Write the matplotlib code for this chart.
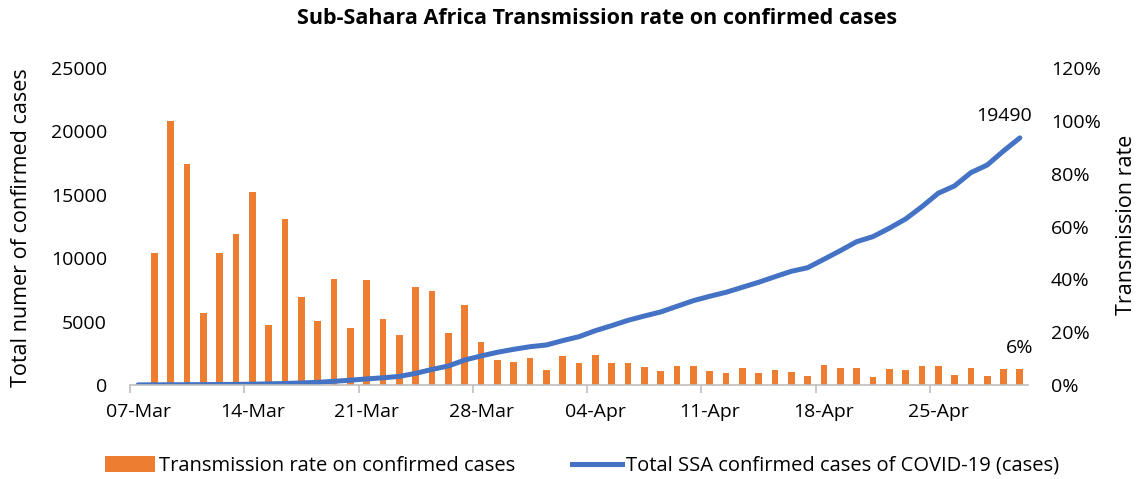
import matplotlib
matplotlib.use("Agg")
import matplotlib.pyplot as plt
import numpy as np
import pandas as pd
from matplotlib.patches import Patch
from matplotlib.lines import Line2D

plt.rcParams['font.family'] = ['Open Sans', 'DejaVu Sans']

# daily data, 07-Mar to 30-Apr
dates = pd.date_range("2020-03-07", "2020-04-30", freq="D")
rate_pct = [0, 50, 100, 83.5, 27.1, 50, 57.2, 72.9, 22.7, 63, 33.2, 24.2, 40.1,
            21.5, 39.6, 25, 18.9, 37, 35.6, 19.6, 30.3, 16.2, 9.3, 8.7, 10.1,
            5.8, 11.1, 8.3, 11.4, 8.5, 8.5, 6.8, 5.3, 7.1, 7.2, 5.2, 4.5, 6.3,
            4.4, 5.7, 4.8, 3.4, 7.6, 6.6, 6.4, 3.0, 6.1, 5.5, 7.3, 7.2, 3.8,
            6.4, 3.4, 5.9, 5.9]
total_cases = [10, 15, 20, 25, 30, 40, 50, 65, 90, 120, 160, 210, 290, 380, 480,
               570, 680, 920, 1230, 1500, 1970, 2290, 2580, 2815, 3020, 3155,
               3500, 3810, 4285, 4680, 5100, 5440, 5760, 6205, 6650, 6995, 7310,
               7705, 8100, 8540, 8965, 9250, 9915, 10590, 11300, 11700, 12360,
               13090, 14060, 15120, 15700, 16745, 17350, 18455, 19490]
label_days = list(range(0, 55, 7))
tick_labels = [dates[i].strftime("%d-%b") for i in label_days]

orange = "#ED7D31"
blue = "#4472C4"
grey = "#BFBFBF"

fig = plt.figure(figsize=(11.38, 4.79), dpi=100)
ax = fig.add_axes([130/1138, 1 - 385/479, 898/1138, 317/479])
ax_r = ax.twinx()
ax.set_zorder(ax_r.get_zorder() + 1)
ax.patch.set_visible(False)

x = np.arange(len(dates))
ax_r.bar(x, rate_pct, width=0.41, color=orange)
ax.plot(x, total_cases, color=blue, lw=3.6, solid_capstyle="round", solid_joinstyle="round")

ax.set_xlim(-0.5, len(dates) - 0.5)
ax.set_ylim(0, 25000)
ax_r.set_ylim(0, 120)

ax.set_yticks(np.arange(0, 25001, 5000))
ax.set_yticklabels([str(v) for v in range(0, 25001, 5000)])
ax_r.set_yticks(np.arange(0, 121, 20))
ax_r.set_yticklabels([f"{v}%" for v in range(0, 121, 20)])

# ticks at the boundaries, labels at day centres
ax.set_xticks([i - 0.5 for i in label_days])
ax.set_xticklabels([])
ax.set_xticks(label_days, minor=True)
ax.set_xticklabels(tick_labels, minor=True)
ax.tick_params(axis="x", which="major", length=6, width=1.2, color=grey)
ax.tick_params(axis="x", which="minor", length=0, pad=13, labelsize=14)
ax.tick_params(axis="y", length=0, pad=16.5, labelsize=14)
ax_r.tick_params(axis="y", length=0, pad=16.5, labelsize=14)
ax_r.tick_params(axis="x", length=0)

for a in (ax, ax_r):
    for s in ("top", "left", "right"):
        a.spines[s].set_visible(False)
ax.spines["bottom"].set_color(grey)
ax.spines["bottom"].set_linewidth(1.2)
ax_r.spines["bottom"].set_visible(False)

fig.text(22/1138, 1 - 228/479, "Total numer of confirmed cases", rotation=90,
         ha="center", va="center", fontsize=15.5)
fig.text(1126/1138, 1 - 225/479, "Transmission rate", rotation=90,
         ha="center", va="center", fontsize=15.5)

ax.annotate(str(total_cases[-1]), (x[-1], total_cases[-1]), xytext=(-11, 12),
            textcoords="offset points", ha="center", va="baseline", fontsize=14)
ax_r.annotate(f"{round(rate_pct[-1])}%", (x[-1], rate_pct[-1]), xytext=(0, 12),
              textcoords="offset points", ha="center", va="baseline", fontsize=14)

fig.text(597/1138, 1 - 18/479, "Sub-Sahara Africa Transmission rate on confirmed cases",
         ha="center", va="center", fontsize=15.5, fontweight="bold")

handles = [Patch(facecolor=orange), Line2D([0], [0], color=blue, lw=3.6)]
fig.legend(handles, ["Transmission rate on confirmed cases",
                     "Total SSA confirmed cases of COVID-19 (cases)"],
           loc="center", bbox_to_anchor=(582/1138, 1 - 466/479), ncol=2, frameon=False,
           fontsize=14.5, handlelength=2.5, handleheight=0.8, columnspacing=2.8,
           handletextpad=0.2)

fig.savefig("out.png", dpi=100)
